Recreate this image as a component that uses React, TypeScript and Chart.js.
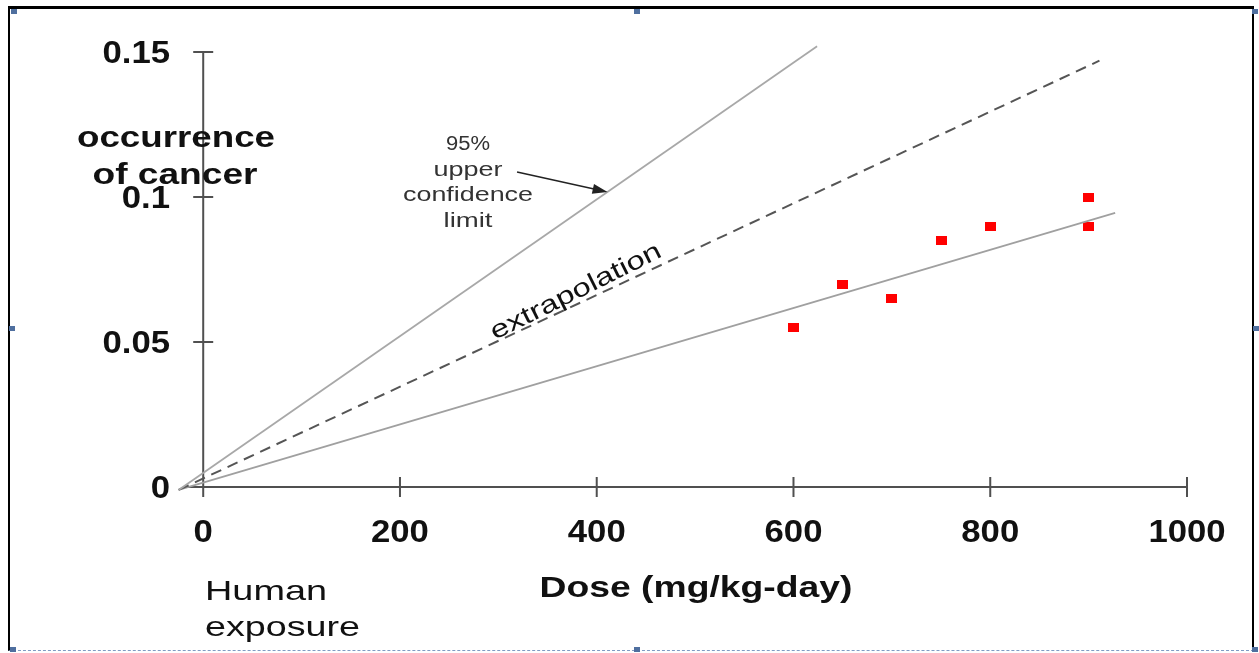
import React, { useEffect, useRef } from "react";
import { Chart, registerables } from "chart.js";

Chart.register(...registerables);

// ---- data ----
const doseValues = [600, 650, 700, 750, 800, 900, 900];
const cancerValues = [0.055, 0.07, 0.065, 0.085, 0.09, 0.1, 0.09];

const upperLimitX = [-25, 624];
const upperLimitY = [-0.001, 0.152];
const extrapolationX = [-25, 911];
const extrapolationY = [-0.001, 0.147];
const fitX = [-25, 927];
const fitY = [-0.001, 0.0945];

const xTicks = [0, 200, 400, 600, 800, 1000];
const xTickLabels = ["0", "200", "400", "600", "800", "1000"];
const yTicks = [0, 0.05, 0.1, 0.15];
const yTickLabels = ["0", "0.05", "0.1", "0.15"];

const yTitleLines = ["occurrence", "of cancer"];
const xTitle = "Dose (mg/kg-day)";
const humanLines = ["Human", "exposure"];
const uclLines = ["95%", "upper", "confidence", "limit"];
const extrapolationLabel = "extrapolation";
// arrow from label to upper-limit line (data coordinates)
const arrowFrom = { x: 319, y: 0.1086 };
const arrowTo = { x: 411, y: 0.1017 };

const FONT = "'Liberation Sans', Arial, Helvetica, sans-serif";

function zip(xs: number[], ys: number[]) {
  return xs.map((x, i) => ({ x, y: ys[i] }));
}

function drawText(
  ctx: CanvasRenderingContext2D,
  text: string,
  x: number,
  y: number,
  font: string,
  opts: { width?: number; scale?: number; align?: CanvasTextAlign; color?: string; angle?: number } = {}
) {
  ctx.save();
  ctx.font = font;
  const w = ctx.measureText(text).width;
  const s = opts.width ? opts.width / w : opts.scale ?? 1;
  ctx.translate(x, y);
  if (opts.angle) ctx.rotate(opts.angle);
  ctx.scale(s, 1);
  ctx.textAlign = opts.align ?? "center";
  ctx.textBaseline = "middle";
  ctx.fillStyle = opts.color ?? "#111";
  ctx.fillText(text, 0, 0);
  ctx.restore();
}

function makeMarker() {
  const c = document.createElement("canvas");
  c.width = 11;
  c.height = 9;
  const g = c.getContext("2d")!;
  g.fillStyle = "#ff0000";
  g.fillRect(0, 0, 11, 9);
  return c;
}

const decorPlugin = {
  id: "decor",
  beforeDatasetsDraw(chart: any) {
    const ctx: CanvasRenderingContext2D = chart.ctx;
    const xs = chart.scales.x;
    const ys = chart.scales.y;
    const x0 = xs.getPixelForValue(0);
    const y0 = ys.getPixelForValue(0);
    ctx.save();
    ctx.strokeStyle = "#505050";
    ctx.lineWidth = 2;
    ctx.beginPath();
    // y axis
    ctx.moveTo(x0, ys.getPixelForValue(0.15));
    ctx.lineTo(x0, y0);
    // x axis
    ctx.moveTo(xs.getPixelForValue(-16), y0);
    ctx.lineTo(xs.getPixelForValue(1000), y0);
    // ticks
    xTicks.forEach((v) => {
      const px = xs.getPixelForValue(v);
      ctx.moveTo(px, y0 - 10);
      ctx.lineTo(px, y0 + 10);
    });
    yTicks.forEach((v) => {
      if (v === 0) return;
      const py = ys.getPixelForValue(v);
      ctx.moveTo(x0 - 10, py);
      ctx.lineTo(x0 + 10, py);
    });
    ctx.stroke();
    ctx.restore();
  },
  afterDraw(chart: any) {
    const ctx: CanvasRenderingContext2D = chart.ctx;
    const xs = chart.scales.x;
    const ys = chart.scales.y;
    const tickFont = `bold 31px ${FONT}`;
    xTicks.forEach((v, i) => {
      drawText(ctx, xTickLabels[i], xs.getPixelForValue(v), 533, tickFont, { scale: 1.12 });
    });
    yTicks.forEach((v, i) => {
      drawText(ctx, yTickLabels[i], 170, ys.getPixelForValue(v) + 2, tickFont, { scale: 1.12, align: "right" });
    });
    // axis titles
    drawText(ctx, yTitleLines[0], 176, 139, `bold 30px ${FONT}`, { width: 198 });
    drawText(ctx, yTitleLines[1], 175, 176, `bold 30px ${FONT}`, { width: 165 });
    drawText(ctx, xTitle, 696, 589, `bold 29px ${FONT}`, { width: 313 });
    drawText(ctx, humanLines[0], 205, 592, `28px ${FONT}`, { width: 122, align: "left" });
    drawText(ctx, humanLines[1], 205, 628, `28px ${FONT}`, { width: 155, align: "left" });
    // upper confidence annotation
    const uclY = [144, 170, 195, 221];
    const uclW = [44, 69, 130, 49];
    uclLines.forEach((t, i) => {
      drawText(ctx, t, 468, uclY[i], `20px ${FONT}`, { width: uclW[i], color: "#333" });
    });
    // arrow
    const ax1 = xs.getPixelForValue(arrowFrom.x);
    const ay1 = ys.getPixelForValue(arrowFrom.y);
    const ax2 = xs.getPixelForValue(arrowTo.x);
    const ay2 = ys.getPixelForValue(arrowTo.y);
    const ang = Math.atan2(ay2 - ay1, ax2 - ax1);
    ctx.save();
    ctx.strokeStyle = "#222";
    ctx.fillStyle = "#222";
    ctx.lineWidth = 1.5;
    ctx.beginPath();
    ctx.moveTo(ax1, ay1);
    ctx.lineTo(ax2 - 8 * Math.cos(ang), ay2 - 8 * Math.sin(ang));
    ctx.stroke();
    ctx.beginPath();
    ctx.moveTo(ax2, ay2);
    ctx.lineTo(ax2 - 15 * Math.cos(ang) + 5 * Math.sin(ang), ay2 - 15 * Math.sin(ang) - 5 * Math.cos(ang));
    ctx.lineTo(ax2 - 15 * Math.cos(ang) - 5 * Math.sin(ang), ay2 - 15 * Math.sin(ang) + 5 * Math.cos(ang));
    ctx.closePath();
    ctx.fill();
    ctx.restore();
    // extrapolation label
    drawText(ctx, extrapolationLabel, 576, 292, `25px ${FONT}`, {
      width: 188,
      angle: (-26.5 * Math.PI) / 180,
      color: "#111",
    });
  },
};

export default function App() {
  const ref = useRef<HTMLCanvasElement>(null);
  useEffect(() => {
    const canvas = ref.current!;
    const marker = makeMarker();
    const chart = new Chart(canvas, {
      type: "scatter",
      data: {
        datasets: [
          {
            label: "upper",
            data: zip(upperLimitX, upperLimitY),
            showLine: true,
            borderColor: "#a8a8a8",
            borderWidth: 1.8,
            pointRadius: 0,
            clip: false as any,
          },
          {
            label: "extrapolation",
            data: zip(extrapolationX, extrapolationY),
            showLine: true,
            borderColor: "#555",
            borderWidth: 2,
            borderDash: [11, 7],
            pointRadius: 0,
            clip: false as any,
          },
          {
            label: "fit",
            data: zip(fitX, fitY),
            showLine: true,
            borderColor: "#a0a0a0",
            borderWidth: 1.8,
            pointRadius: 0,
            clip: false as any,
          },
          {
            label: "observed",
            data: zip(doseValues, cancerValues),
            showLine: false,
            pointStyle: marker as any,
            pointRadius: 6,
            backgroundColor: "#ff0000",
            borderColor: "#ff0000",
            clip: false as any,
          },
        ],
      },
      options: {
        animation: false,
        responsive: false,
        devicePixelRatio: 1,
        layout: { padding: { left: 179.6, right: 72, top: 52, bottom: 166 } },
        plugins: { legend: { display: false }, tooltip: { enabled: false } },
        scales: {
          x: { type: "linear", min: -24, max: 1000, display: false },
          y: { type: "linear", min: 0, max: 0.15, display: false },
        },
      },
      plugins: [decorPlugin],
    });
    return () => chart.destroy();
  }, []);

  const handle = (left: number, top: number) => (
    <div
      style={{ position: "absolute", left, top, width: 6, height: 5, background: "#4f6f9f" }}
    />
  );

  return (
    <div style={{ position: "fixed", left: 0, top: 0, width: 1259, height: 653, background: "#fff", overflow: "hidden" }}>
      <canvas ref={ref} width={1259} height={653} style={{ position: "absolute", left: 0, top: 0 }} />
      <div
        style={{
          position: "absolute",
          left: 8,
          top: 6,
          width: 1246,
          height: 645,
          borderTop: "3px solid #000",
          borderLeft: "2px solid #000",
          borderRight: "2px solid #000",
          borderBottom: "1px dashed #7f9cc4",
          boxSizing: "border-box",
          pointerEvents: "none",
        }}
      />
      {handle(11, 9)}
      {handle(634, 9)}
      {handle(1252, 9)}
      {handle(9, 326)}
      {handle(1253, 326)}
      {handle(10, 647)}
      {handle(634, 647)}
      {handle(1252, 647)}
    </div>
  );
}
